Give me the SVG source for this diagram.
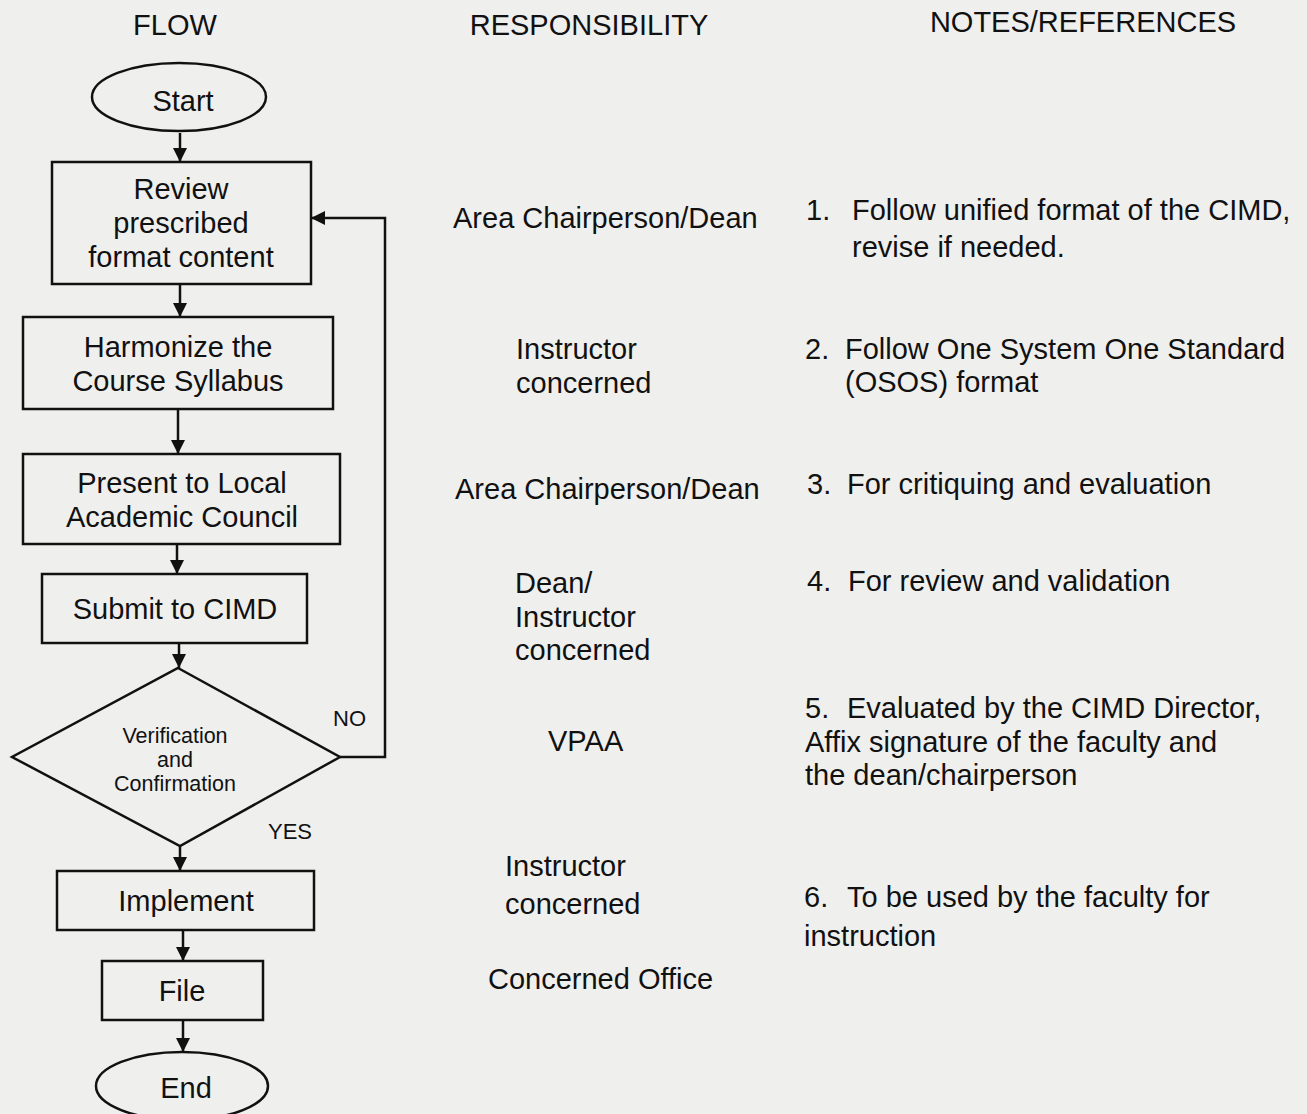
<svg xmlns="http://www.w3.org/2000/svg" width="1307" height="1114" viewBox="0 0 1307 1114">
<defs>
<marker id="ah" viewBox="0 0 10 10" refX="10" refY="5" markerWidth="15" markerHeight="14" markerUnits="userSpaceOnUse" orient="auto">
<path d="M0,0 L10,5 L0,10 Z" fill="#111"/>
</marker>
<style>
.t{font-family:"Liberation Sans",Arial,sans-serif;font-size:29px;fill:#111}
.h{font-family:"Liberation Sans",Arial,sans-serif;font-size:29px;fill:#111}
.s{font-family:"Liberation Sans",Arial,sans-serif;font-size:21.5px;fill:#111}
.y{font-family:"Liberation Sans",Arial,sans-serif;font-size:22px;fill:#111}
.c{text-anchor:middle}
.shape{fill:none;stroke:#111;stroke-width:2.5}
.conn{fill:none;stroke:#111;stroke-width:2.5;marker-end:url(#ah)}
</style>
</defs>
<rect x="0" y="0" width="1307" height="1114" fill="#efefee"/>
<g id="headers">
<text class="h c" x="175" y="35">FLOW</text>
<text class="h c" x="589" y="35">RESPONSIBILITY</text>
<text class="h c" x="1083" y="32">NOTES/REFERENCES</text>
</g>
<g id="connectors">
<line class="conn" x1="180" y1="133" x2="180" y2="162"/>
<line class="conn" x1="180" y1="284" x2="180" y2="317"/>
<line class="conn" x1="178" y1="409" x2="178" y2="454"/>
<line class="conn" x1="177" y1="544" x2="177" y2="574"/>
<line class="conn" x1="179" y1="643" x2="179" y2="668"/>
<polyline class="conn" points="340,757 385,757 385,218 311,218"/>
<line class="conn" x1="180" y1="846" x2="180" y2="871"/>
<line class="conn" x1="183" y1="930" x2="183" y2="961"/>
<line class="conn" x1="183" y1="1020" x2="183" y2="1052"/>
<text class="y" x="333" y="726">NO</text>
<text class="y" x="268" y="839">YES</text>
</g>
<g id="start">
<ellipse class="shape" cx="179" cy="97" rx="87" ry="34"/>
<text class="t c" x="183" y="111">Start</text>
</g>
<g id="review">
<rect class="shape" x="52" y="162" width="259" height="122"/>
<text class="t c" x="181" y="199">Review</text>
<text class="t c" x="181" y="233">prescribed</text>
<text class="t c" x="181" y="267">format content</text>
</g>
<g id="harmonize">
<rect class="shape" x="23" y="317" width="310" height="92"/>
<text class="t c" x="178" y="357">Harmonize the</text>
<text class="t c" x="178" y="391">Course Syllabus</text>
</g>
<g id="present">
<rect class="shape" x="23" y="454" width="317" height="90"/>
<text class="t c" x="182" y="493">Present to Local</text>
<text class="t c" x="182" y="527">Academic Council</text>
</g>
<g id="submit">
<rect class="shape" x="42" y="574" width="265" height="69"/>
<text class="t c" x="175" y="619">Submit to CIMD</text>
</g>
<g id="verify">
<polygon class="shape" points="178,668 340,757 180,846 12,757"/>
<text class="s c" x="175" y="743">Verification</text>
<text class="s c" x="175" y="767">and</text>
<text class="s c" x="175" y="791">Confirmation</text>
</g>
<g id="implement">
<rect class="shape" x="57" y="871" width="257" height="59"/>
<text class="t c" x="186" y="911">Implement</text>
</g>
<g id="file">
<rect class="shape" x="102" y="961" width="161" height="59"/>
<text class="t c" x="182" y="1001">File</text>
</g>
<g id="end">
<ellipse class="shape" cx="182" cy="1086" rx="86" ry="34"/>
<text class="t c" x="186" y="1098">End</text>
</g>
<g id="responsibility">
<text class="t" x="453" y="228">Area Chairperson/Dean</text>
<text class="t" x="516" y="359">Instructor</text>
<text class="t" x="516" y="393">concerned</text>
<text class="t" x="455" y="499">Area Chairperson/Dean</text>
<text class="t" x="515" y="593">Dean/</text>
<text class="t" x="515" y="627">Instructor</text>
<text class="t" x="515" y="660">concerned</text>
<text class="t" x="548" y="751">VPAA</text>
<text class="t" x="505" y="876">Instructor</text>
<text class="t" x="505" y="914">concerned</text>
<text class="t" x="488" y="989">Concerned Office</text>
</g>
<g id="notes">
<text class="t" x="806" y="220">1.</text>
<text class="t" x="852" y="220">Follow unified format of the CIMD,</text>
<text class="t" x="852" y="257">revise if needed.</text>
<text class="t" x="805" y="359">2.</text>
<text class="t" x="845" y="359">Follow One System One Standard</text>
<text class="t" x="845" y="392">(OSOS) format</text>
<text class="t" x="807" y="494">3.</text>
<text class="t" x="847" y="494">For critiquing and evaluation</text>
<text class="t" x="807" y="591">4.</text>
<text class="t" x="848" y="591">For review and validation</text>
<text class="t" x="805" y="718">5.</text>
<text class="t" x="847" y="718">Evaluated by the CIMD Director,</text>
<text class="t" x="805" y="752">Affix signature of the faculty and</text>
<text class="t" x="805" y="785">the dean/chairperson</text>
<text class="t" x="804" y="907">6.</text>
<text class="t" x="847" y="907">To be used by the faculty for</text>
<text class="t" x="804" y="946">instruction</text>
</g>
</svg>
